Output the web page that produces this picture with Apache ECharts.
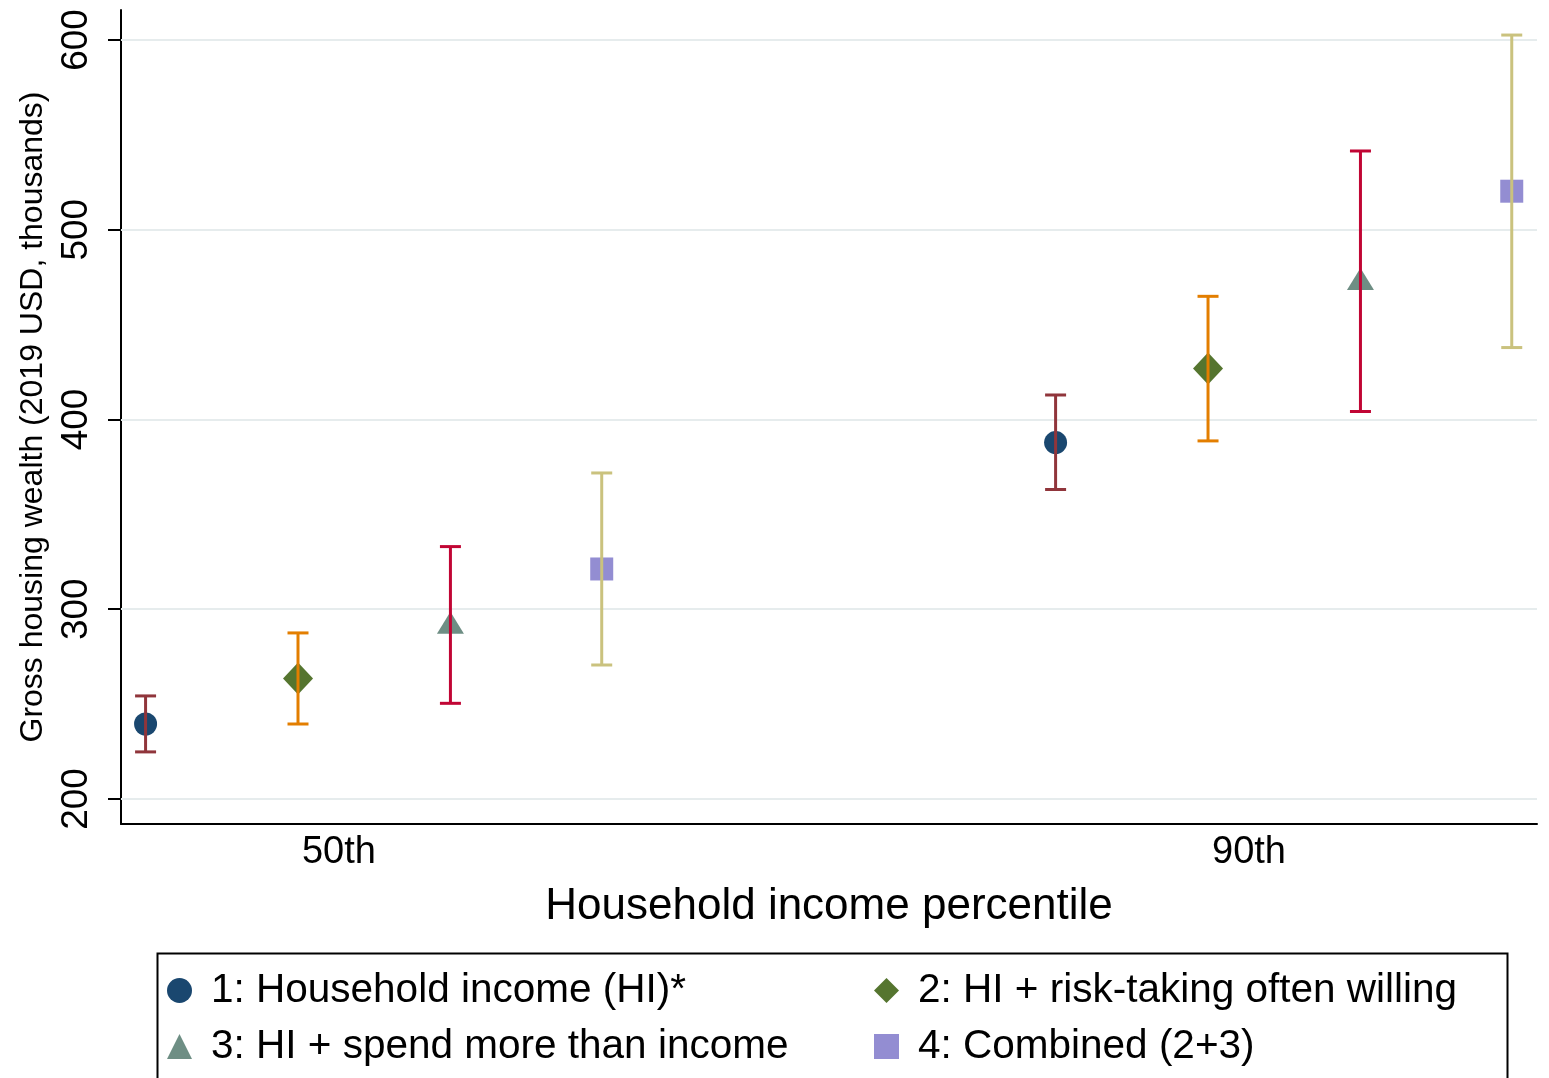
<!DOCTYPE html>
<html>
<head>
<meta charset="utf-8">
<script src="https://cdn.jsdelivr.net/npm/echarts@6/dist/echarts.min.js"></script>
<style>html,body{margin:0;padding:0;background:#fff;}#c{width:1549px;height:1078px;}</style>
</head>
<body>
<div id="c"></div>
<script>
// ---- data ----
const categories = ['50th', '90th'];
const percentiles = [50, 90];
const seriesNames = [
  '1: Household income (HI)*',
  '2: HI + risk-taking often willing',
  '3: HI + spend more than income',
  '4: Combined (2+3)'
];
const dodge = [-8.5, -1.8, 4.9, 11.55];
const est1 = [239.5, 387.8];
const lo1  = [224.8, 363.1];
const hi1  = [254.3, 412.9];
const est2 = [263.5, 426.9];
const lo2  = [239.5, 388.7];
const hi2  = [287.5, 464.9];
const est3 = [292.8, 474.0];
const lo3  = [250.4, 404.2];
const hi3  = [333.0, 541.5];
const est4 = [321.2, 520.3];
const lo4  = [270.6, 437.9];
const hi4  = [371.8, 602.6];
const yTicks = [200, 300, 400, 500, 600];

// ---- styles ----
const markerColors = ['#1a476f', '#55752f', '#6e8e84', '#938dd2'];
const ciColors = ['#90353b', '#e37e00', '#c10534', '#cac27e'];
const symbols = ['circle', 'diamond', 'triangle', 'rect'];
const symbolSizes = [23, [30, 32], [27, 22], 23];
const FONT = 'Liberation Sans, Arial, Helvetica, sans-serif';

const ests = [est1, est2, est3, est4];
const los = [lo1, lo2, lo3, lo4];
const his = [hi1, hi2, hi3, hi4];

const series = [];
ests.forEach((est, i) => {
  series.push({
    name: seriesNames[i],
    type: 'scatter',
    symbol: symbols[i],
    symbolSize: symbolSizes[i],
    itemStyle: { color: markerColors[i], opacity: 1 },
    z: 2,
    data: percentiles.map((p, j) => [p + dodge[i], est[j]]),
    markLine: i === 0 ? {
      silent: true,
      symbol: 'none',
      label: { show: false },
      lineStyle: { color: '#e6eced', width: 2, type: 'solid' },
      data: yTicks.map(v => ({ yAxis: v })),
      z: 1
    } : undefined
  });
});
los.forEach((lo, i) => {
  const col = ciColors[i];
  series.push({
    name: 'ci' + i,
    type: 'custom',
    z: 3,
    encode: { x: 0, y: [1, 2] },
    data: percentiles.map((p, j) => [p + dodge[i], lo[j], his[i][j]]),
    renderItem: function (params, api) {
      const x = api.value(0);
      const a = api.coord([x, api.value(1)]);
      const b = api.coord([x, api.value(2)]);
      const hw = 10.5;
      const st = { stroke: col, lineWidth: 3 };
      return {
        type: 'group',
        children: [
          { type: 'line', shape: { x1: a[0], y1: a[1], x2: b[0], y2: b[1] }, style: st },
          { type: 'line', shape: { x1: a[0] - hw, y1: a[1], x2: a[0] + hw, y2: a[1] }, style: st },
          { type: 'line', shape: { x1: b[0] - hw, y1: b[1], x2: b[0] + hw, y2: b[1] }, style: st }
        ]
      };
    }
  });
});

const legendBase = {
  orient: 'vertical',
  padding: 0,
  height: 200,
  itemWidth: 25,
  itemHeight: 25,
  itemGap: 15,
  textStyle: { fontSize: 40.5, color: '#000', fontFamily: FONT, padding: [0, 0, 0, 14] },
  selectedMode: false
};

const option = {
  backgroundColor: '#fff',
  animation: false,
  textStyle: { fontFamily: FONT },
  grid: { left: 121, right: 12, top: 10, bottom: 254 },
  xAxis: {
    type: 'value',
    min: 40.42,
    max: 102.66,
    name: 'Household income percentile',
    nameLocation: 'middle',
    nameGap: 61,
    nameTextStyle: { fontSize: 44, color: '#000', fontFamily: FONT },
    axisLine: { show: true, lineStyle: { color: '#000', width: 2 } },
    axisTick: { show: false },
    splitLine: { show: false },
    axisLabel: {
      customValues: percentiles,
      formatter: v => categories[percentiles.indexOf(v)],
      fontSize: 38, color: '#000', margin: 10, fontFamily: FONT
    }
  },
  yAxis: {
    type: 'value',
    min: 186.8,
    max: 615.8,
    name: 'Gross housing wealth (2019 USD, thousands)',
    nameLocation: 'middle',
    nameRotate: 90,
    nameGap: 72,
    nameTextStyle: { fontSize: 32, color: '#000', fontFamily: FONT },
    axisLine: { show: true, lineStyle: { color: '#000', width: 2 } },
    axisTick: { show: true, customValues: yTicks, length: 13, lineStyle: { color: '#000', width: 2 } },
    splitLine: { show: false },
    axisLabel: {
      customValues: yTicks,
      rotate: 90,
      fontSize: 37, color: '#000', margin: 26, fontFamily: FONT
    }
  },
  legend: [
    Object.assign({}, legendBase, { left: 167, top: 970, data: [seriesNames[0], seriesNames[2]] }),
    Object.assign({}, legendBase, { left: 874, top: 970, data: [seriesNames[1], seriesNames[3]] })
  ],
  graphic: [{
    type: 'rect',
    left: 155, top: 951,
    shape: { width: 1350, height: 150 },
    style: { fill: 'none', stroke: '#000', lineWidth: 2 },
    silent: true
  }],
  series: series
};

const chart = echarts.init(document.getElementById('c'), null, { renderer: 'canvas' });
chart.setOption(option);
</script>
</body>
</html>
